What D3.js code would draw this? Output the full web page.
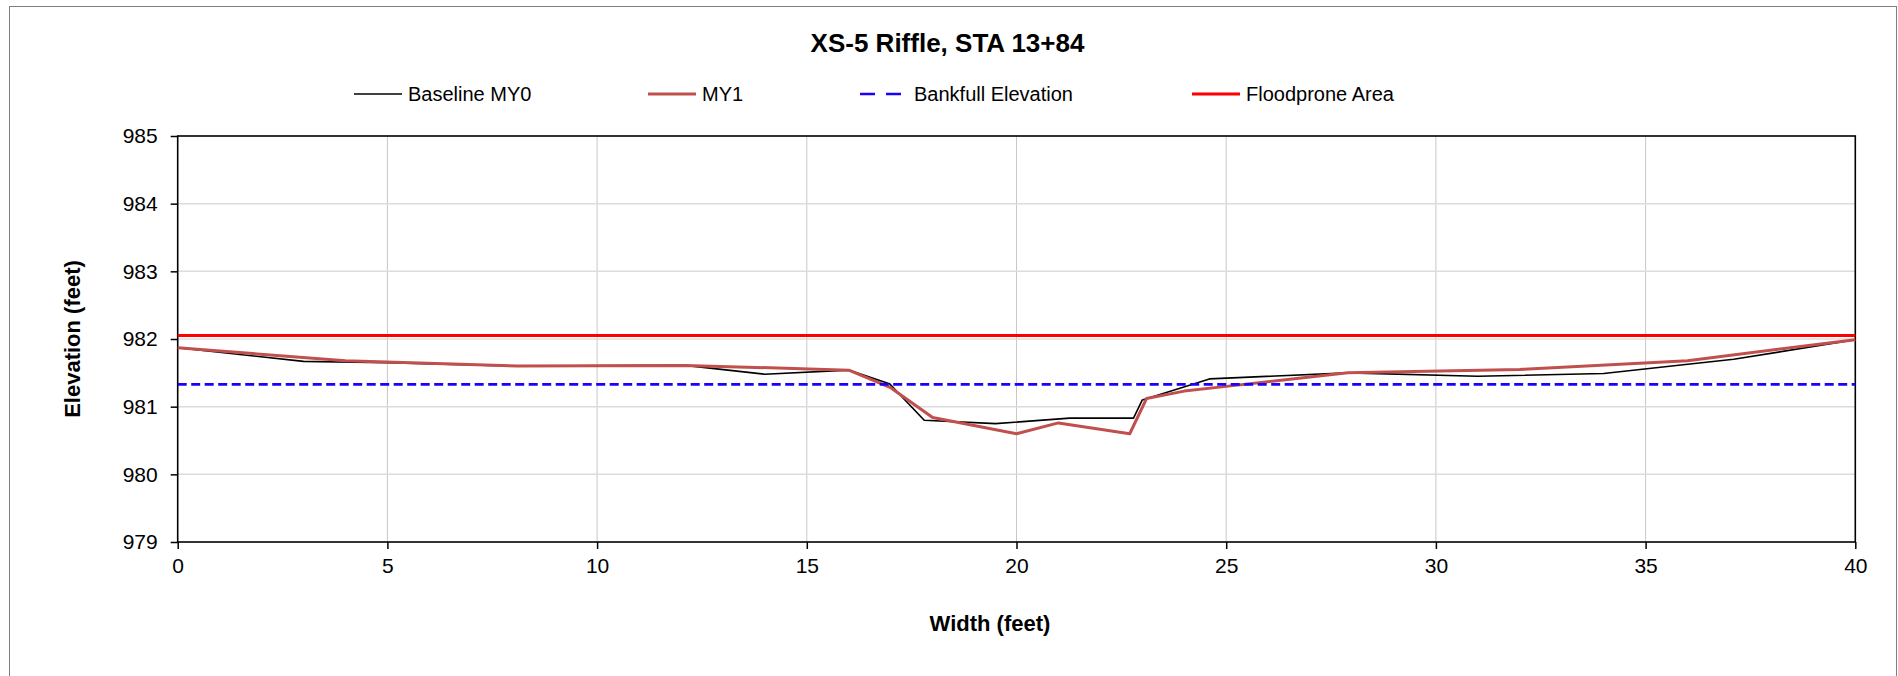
<!DOCTYPE html>
<html>
<head>
<meta charset="utf-8">
<script src="https://cdn.jsdelivr.net/npm/d3@7"></script>
<style>
  html, body { margin: 0; padding: 0; background: #fff; }
  svg { display: block; font-family: "Liberation Sans", Arial, sans-serif; }
</style>
</head>
<body>
<svg id="chart" width="1898" height="676"></svg>
<script>
// ---- Data ----
const chartTitle = "XS-5 Riffle, STA 13+84";
const xAxisTitle = "Width (feet)";
const yAxisTitle = "Elevation (feet)";
const xTicks = [0, 5, 10, 15, 20, 25, 30, 35, 40];
const yTicks = [979, 980, 981, 982, 983, 984, 985];

const baselineX = [0, 3.0, 5, 8.1, 12.1, 14.0, 16.0, 16.97, 17.8, 19.5, 21.27, 22.79, 23.0, 24.6, 27.9, 31.0, 34.0, 36.06, 37.1, 40];
const baselineY = [981.87, 981.67, 981.65, 981.60, 981.61, 981.48, 981.54, 981.34, 980.80, 980.75, 980.83, 980.83, 981.10, 981.41, 981.50, 981.45, 981.49, 981.63, 981.70, 981.99];

const my1X = [0, 4.0, 8.1, 12.1, 16.0, 17.0, 18.0, 20.0, 21.0, 22.7, 23.1, 24.0, 25.0, 27.9, 32.0, 36.0, 40];
const my1Y = [981.87, 981.68, 981.60, 981.61, 981.54, 981.28, 980.84, 980.60, 980.76, 980.60, 981.12, 981.23, 981.30, 981.50, 981.55, 981.68, 981.99];

const bankfullX = [0, 40];
const bankfullY = [981.33, 981.33];

const floodproneX = [0, 40];
const floodproneY = [982.05, 982.05];

const seriesNames = ["Baseline MY0", "MY1", "Bankfull Elevation", "Floodprone Area"];

// ---- Layout ----
const svg = d3.select("#chart");
const W = 1898, H = 676;
const plot = { left: 177.7, right: 1855.3, top: 136, bottom: 542 };

const x = d3.scaleLinear().domain([0, 40]).range([plot.left, plot.right]);
const y = d3.scaleLinear().domain([979, 985]).range([plot.bottom, plot.top]);

// outer chart border
svg.append("rect")
  .attr("x", 9.5).attr("y", 6.5)
  .attr("width", 1887).attr("height", 680)
  .attr("fill", "#fff").attr("stroke", "#7f7f7f").attr("stroke-width", 1);

// gridlines
const g = svg.append("g");
g.selectAll("line.vgrid").data(xTicks.slice(1, -1)).enter().append("line")
  .attr("x1", d => x(d)).attr("x2", d => x(d))
  .attr("y1", plot.top).attr("y2", plot.bottom)
  .attr("stroke", "#c8c8c8").attr("stroke-width", 1);
g.selectAll("line.hgrid").data(yTicks.slice(1, -1)).enter().append("line")
  .attr("x1", plot.left).attr("x2", plot.right)
  .attr("y1", d => y(d)).attr("y2", d => y(d))
  .attr("stroke", "#dcdcdc").attr("stroke-width", 1.5);

// axes
const xAxis = d3.axisBottom(x).tickValues(xTicks).tickSize(7).tickPadding(9).tickFormat(d3.format("d"));
const yAxis = d3.axisLeft(y).tickValues(yTicks).tickSize(7).tickPadding(13).tickFormat(d3.format("d"));

const gx = svg.append("g").attr("transform", `translate(0,${plot.bottom})`).call(xAxis);
const gy = svg.append("g").attr("transform", `translate(${plot.left},0)`).call(yAxis);
[gx, gy].forEach(a => {
  a.select(".domain").remove();
  a.selectAll(".tick line").attr("stroke", "#000").attr("stroke-width", 1.5);
  a.selectAll(".tick text").attr("fill", "#000").style("font-size", "21px")
    .style("font-family", "'Liberation Sans', Arial, sans-serif");
});

// plot frame
svg.append("rect")
  .attr("x", plot.left).attr("y", plot.top)
  .attr("width", plot.right - plot.left).attr("height", plot.bottom - plot.top)
  .attr("fill", "none").attr("stroke", "#000").attr("stroke-width", 1.6);

// series
const line = d3.line().x(d => x(d[0])).y(d => y(d[1]));
const zip = (a, b) => a.map((v, i) => [v, b[i]]);

const series = [
  { name: seriesNames[0], data: zip(baselineX, baselineY), color: "#000000", width: 1.6, dash: null, legendDash: null },
  { name: seriesNames[1], data: zip(my1X, my1Y), color: "#c0504d", width: 3, dash: null, legendDash: null },
  { name: seriesNames[2], data: zip(bankfullX, bankfullY), color: "#1a00ff", width: 2.6, dash: "9,4.5", legendDash: "15,11" },
  { name: seriesNames[3], data: zip(floodproneX, floodproneY), color: "#ff0000", width: 3, dash: null, legendDash: null }
];

series.forEach(s => {
  svg.append("path")
    .datum(s.data)
    .attr("d", line)
    .attr("fill", "none")
    .attr("stroke", s.color)
    .attr("stroke-width", s.width)
    .attr("stroke-linejoin", "round")
    .attr("stroke-dasharray", s.dash);
});

// title
svg.append("text")
  .attr("x", 947.5).attr("y", 51.5)
  .attr("text-anchor", "middle")
  .style("font-size", "26px").style("font-weight", "bold")
  .text(chartTitle);

// legend
const legendStarts = [354, 648, 860, 1192];
const legend = svg.append("g");
series.forEach((s, i) => {
  const lx = legendStarts[i];
  legend.append("line")
    .attr("x1", lx).attr("x2", lx + 48)
    .attr("y1", 94).attr("y2", 94)
    .attr("stroke", s.color)
    .attr("stroke-width", s.width)
    .attr("stroke-dasharray", s.legendDash);
  legend.append("text")
    .attr("x", lx + 54).attr("y", 100.5)
    .style("font-size", "20px")
    .text(s.name);
});

// axis titles
svg.append("text")
  .attr("x", 990).attr("y", 631)
  .attr("text-anchor", "middle")
  .style("font-size", "22px").style("font-weight", "bold")
  .text(xAxisTitle);

svg.append("text")
  .attr("transform", `translate(80,339) rotate(-90)`)
  .attr("text-anchor", "middle")
  .style("font-size", "22px").style("font-weight", "bold")
  .text(yAxisTitle);
</script>
</body>
</html>
